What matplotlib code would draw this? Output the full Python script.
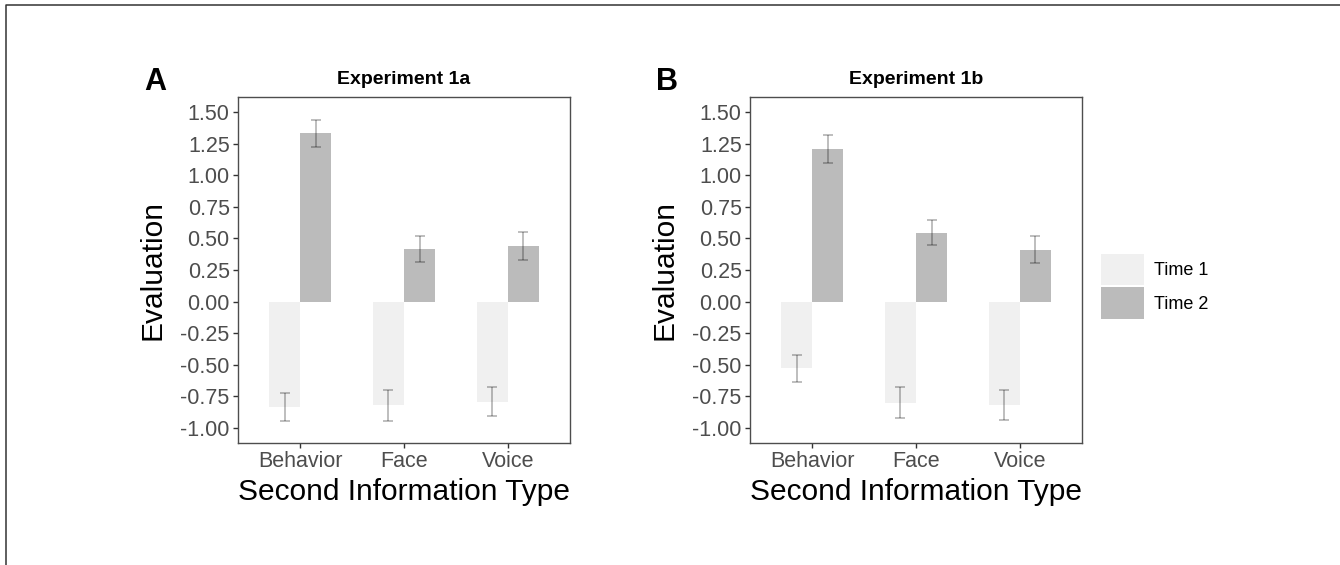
import numpy as np
import matplotlib
matplotlib.use('Agg')
import matplotlib.pyplot as plt
from matplotlib.lines import Line2D

plt.rcParams['font.family'] = ['Liberation Sans', 'DejaVu Sans']
plt.rcParams['axes.unicode_minus'] = False

# Data
categories = ['Behavior', 'Face', 'Voice']
series = ['Time 1', 'Time 2']
exp1a_time1 = [-0.836, -0.823, -0.792]
exp1a_time1_se = [0.108, 0.122, 0.116]
exp1a_time2 = [1.333, 0.415, 0.441]
exp1a_time2_se = [0.107, 0.105, 0.111]
exp1b_time1 = [-0.528, -0.800, -0.820]
exp1b_time1_se = [0.108, 0.122, 0.117]
exp1b_time2 = [1.207, 0.546, 0.412]
exp1b_time2_se = [0.113, 0.100, 0.104]
yticks = [-1.00, -0.75, -0.50, -0.25, 0.00, 0.25, 0.50, 0.75, 1.00, 1.25, 1.50]

colors = ['#F0F0F0', '#BBBBBB']
W, H = 1340, 565

fig = plt.figure(figsize=(W / 100, H / 100), dpi=100)

panels = [
    ('A', 'Experiment 1a', 238, [exp1a_time1, exp1a_time2], [exp1a_time1_se, exp1a_time2_se]),
    ('B', 'Experiment 1b', 750, [exp1b_time1, exp1b_time2], [exp1b_time1_se, exp1b_time2_se]),
]

x = np.arange(1, len(categories) + 1)
bw = 0.3
for letter, title, left_px, vals, ses in panels:
    ax = fig.add_axes([left_px / W, (H - 443) / H, 332 / W, (443 - 97) / H])
    for i, (v, s) in enumerate(zip(vals, ses)):
        xs = x + (i - 0.5) * bw
        ax.bar(xs, v, width=bw, color=colors[i], edgecolor='none', label=series[i], zorder=2)
        ax.errorbar(xs, v, yerr=s, fmt='none', ecolor=(0, 0, 0, 0.3),
                    elinewidth=1.2, capsize=3.6, capthick=1.2, zorder=3)
    ax.set_xlim(0.4, 3.6)
    ax.set_ylim(-1.12, 1.62)
    ax.set_xticks(x)
    ax.set_xticklabels(categories)
    ax.set_yticks(yticks)
    ax.set_yticklabels(['%.2f' % t for t in yticks])
    ax.tick_params(axis='both', labelsize=15.5, labelcolor='#4d4d4d', color='#333333',
                   length=3.5, width=1, pad=2.5)
    for sp in ax.spines.values():
        sp.set_color('#4d4d4d')
        sp.set_linewidth(1.0)
    ax.set_ylabel('Evaluation', fontsize=21.5, labelpad=10)
    ax.set_xlabel('Second Information Type', fontsize=21.5, labelpad=4)
    ax.set_title(title, fontsize=14, fontweight='bold', pad=9)
    fig.text((left_px - 83) / W, 1 - 82.5 / H, letter, fontsize=22, fontweight='bold',
             ha='center', va='center')

handles, labels = ax.get_legend_handles_labels()
fig.legend(handles, labels, loc='upper left', bbox_to_anchor=(1101 / W, 1 - 254 / H),
           frameon=False, fontsize=13, handlelength=2.4, handleheight=2.3,
           handletextpad=0.55, labelspacing=0.1, borderpad=0, borderaxespad=0)

# outer frame visible on top and left edges
fig.add_artist(Line2D([6 / W, 6 / W, 1.0], [0.0, 1 - 5 / H, 1 - 5 / H],
                      transform=fig.transFigure, color='#333333', lw=1.1))

fig.savefig('out.png', dpi=100)
